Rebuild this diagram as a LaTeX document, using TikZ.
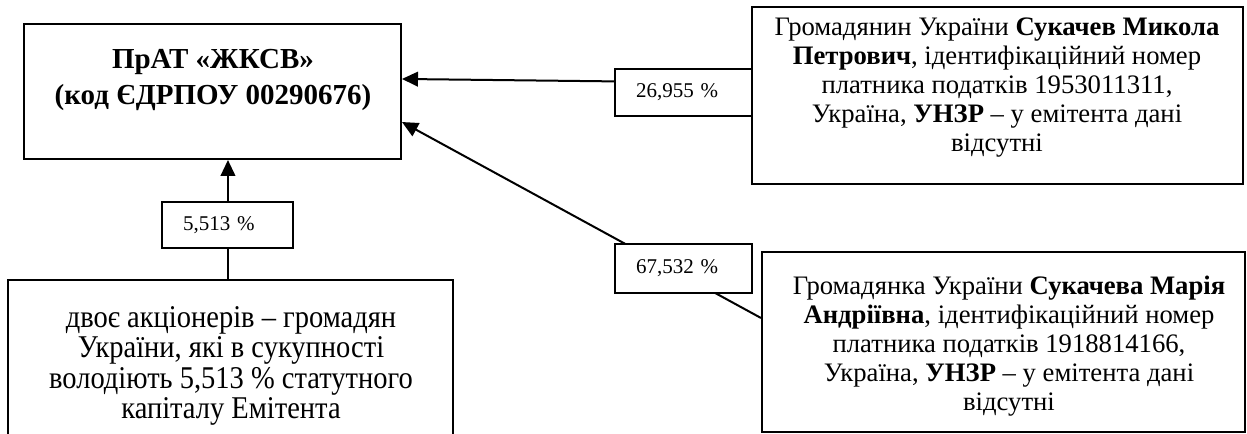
\documentclass[tikz,border=0pt]{standalone}
\usepackage{fontspec}
\setmainfont{Liberation Serif}
\newfontfamily\narrowserif[FakeStretch=0.9]{Liberation Serif}
\usetikzlibrary{arrows.meta}

\tikzset{
  box/.style={draw, line width=1.5pt, inner sep=0pt},
  title/.style={align=center, font=\bfseries\fontsize{21.75pt}{27pt}\selectfont},
  person/.style={align=center, font=\fontsize{20pt}{21.75pt}\selectfont},
  group/.style={align=center, font=\narrowserif\fontsize{23.75pt}{22.9pt}\selectfont},
  share/.style={draw, line width=1.5pt, fill=white, inner xsep=15.75pt, inner ysep=0pt,
    align=left, font=\fontsize{15.75pt}{18pt}\selectfont},
  owns/.style={line width=1.5pt, -{Triangle[length=12pt, width=11pt]}},
}

\begin{document}
\begin{tikzpicture}[x=0.75pt, y=-0.75pt]
  % page of the scan, the lower left box runs off it
  \clip (0,0) rectangle (1247,434);

  % boxes
  \node [box, minimum width=282.75pt, minimum height=101.25pt](prat) at (212.5,91.5) {};
  \node [box, minimum width=368.25pt, minimum height=132.75pt](holder1) at (997.5,95.5) {};
  \node [box, minimum width=362.25pt, minimum height=135pt](holder2) at (1003.5,342) {};
  \node [box, minimum width=333.75pt, minimum height=127.5pt](others) at (230.5,365) {};

  % texts of the boxes
  \node [title](pratname) at (213,80) {ПрАТ «ЖКСВ»\\(код ЄДРПОУ 00290676)};
  \node [person](holder1name) at (997,88) {Громадянин України \textbf{Сукачев Микола}\\
    \textbf{Петрович}, ідентифікаційний номер\\платника податків 1953011311,\\
    Україна, \textbf{УНЗР} – у емітента дані\\відсутні};
  \node [person](holder2name) at (1009,346.5) {Громадянка України \textbf{Сукачева Марія}\\
    \textbf{Андріївна}, ідентифікаційний номер\\платника податків 1918814166,\\
    Україна, \textbf{УНЗР} – у емітента дані\\відсутні};
  \node [group](othersname) at (231,366) {двоє акціонерів – громадян\\України, які в сукупності\\
    володіють 5,513 \% статутного\\капіталу Емітента};

  % ownership lines, share boxes go on top of them
  \draw [owns] ([yshift=9.4pt]holder1.west) -- ([yshift=9.4pt]prat.east);
  \draw [owns] ([yshift=18pt]holder2.west) -- ([yshift=-22.9pt]prat.east);
  \draw [owns] ([xshift=-1.9pt]others.north) -- ([xshift=-1.9pt]others.north |- prat.south);

  \node [share, text width=71.25pt, minimum height=35.25pt](share1) at (683.5,92.5) {26,955 \%};
  \node [share, text width=71.25pt, minimum height=36.75pt](share2) at (683.5,268.5) {67,532 \%};
  \node [share, text width=66.75pt, minimum height=34.5pt](share3) at (227.5,225) {5,513 \%};
\end{tikzpicture}
\end{document}
